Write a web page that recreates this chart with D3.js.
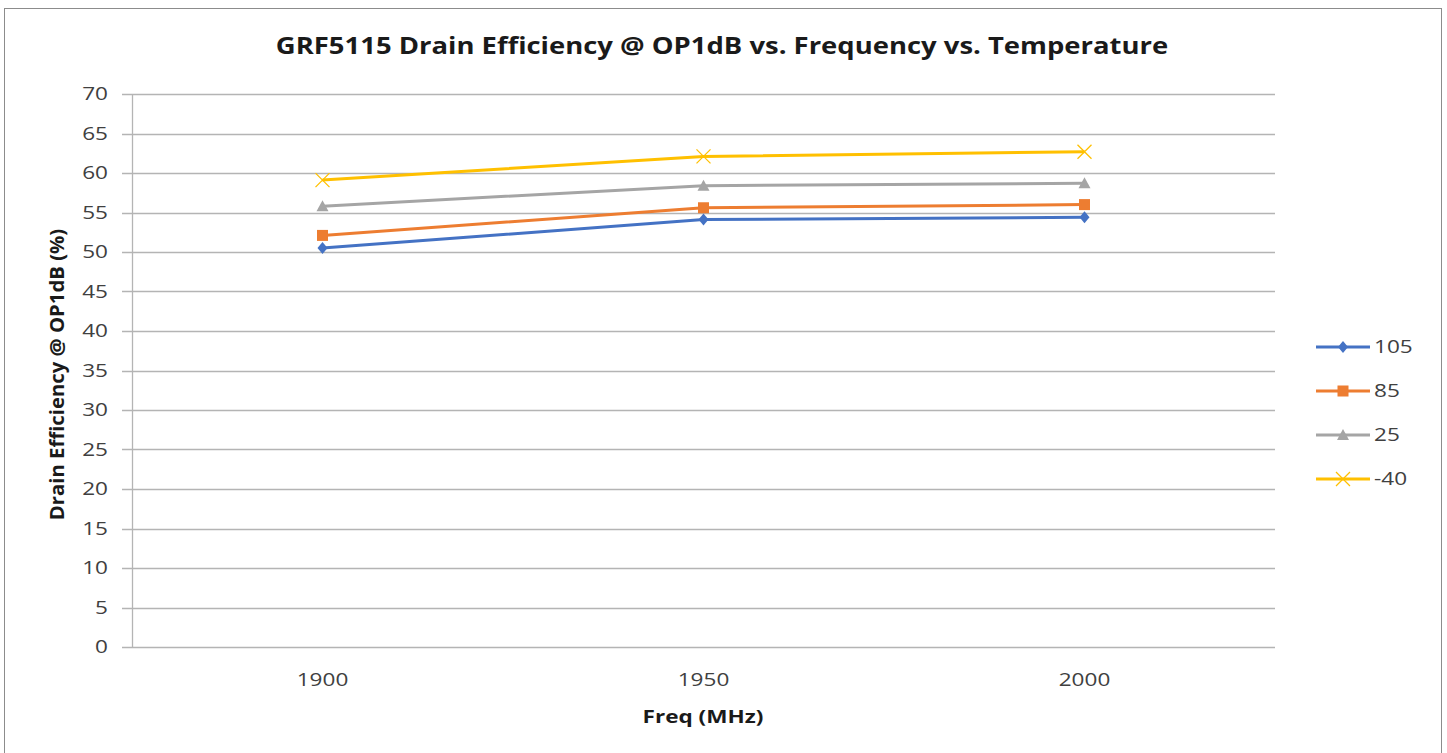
<!DOCTYPE html>
<html>
<head>
<meta charset="utf-8">
<script src="https://cdn.jsdelivr.net/npm/d3@7"></script>
<style>
  body { margin: 0; background: #fff; }
  svg text { font-family: "Open Sans", "DejaVu Sans", sans-serif; }
</style>
</head>
<body>
<div id="chart"></div>
<script>
// data
let freqs = ["1900", "1950", "2000"];
let temps = ["105", "85", "25", "-40"];
let eff105 = [50.5, 54.1, 54.4];
let eff85 = [52.1, 55.6, 56.0];
let eff25 = [55.8, 58.4, 58.7];
let effM40 = [59.1, 62.1, 62.7];
let yTicks = d3.range(0, 71, 5);

let colors = ["#4472C4", "#ED7D31", "#A5A5A5", "#FFC000"];
let shapes = ["diamond", "square", "triangle", "x"];
let series = [eff105, eff85, eff25, effM40].map(function (v, i) {
    return { name: temps[i], values: v, color: colors[i], shape: shapes[i] };
});

let W = 1447, H = 753;
let margin = { top: 94, left: 132, right: W - 1275, bottom: H - 647 };
let sx = 1.22; // the reference text is drawn wide

let svg = d3.select("#chart").append("svg")
    .attr("width", W)
    .attr("height", H);

// outer chart border
svg.append("rect")
    .attr("x", 4.5).attr("y", 8.5)
    .attr("width", 1437).attr("height", 760)
    .attr("fill", "#fff")
    .attr("stroke", "#8c8c8c")
    .attr("stroke-width", 1);

let x = d3.scaleBand().domain(freqs).range([margin.left, W - margin.right]);
let y = d3.scaleLinear().domain([0, 70]).range([H - margin.bottom, margin.top]);

function label(px, py, str, size, anchor, bold, fill) {
    return svg.append("text")
        .attr("transform", "translate(" + px + "," + py + ") scale(" + sx + ",1)")
        .attr("dy", "0.35em")
        .attr("text-anchor", anchor)
        .attr("font-size", size)
        .attr("font-weight", bold ? "bold" : "normal")
        .attr("fill", fill)
        .text(str);
}

// gridlines
svg.append("g")
    .selectAll("line")
    .data(yTicks)
    .enter().append("line")
    .attr("x1", margin.left - 10)
    .attr("x2", W - margin.right)
    .attr("y1", function (d) { return Math.round(y(d)) + 0.5; })
    .attr("y2", function (d) { return Math.round(y(d)) + 0.5; })
    .attr("stroke", "#b4b4b4")
    .attr("stroke-width", 1.3);

// y axis line
svg.append("line")
    .attr("x1", margin.left + 0.5).attr("x2", margin.left + 0.5)
    .attr("y1", y(70)).attr("y2", y(0))
    .attr("stroke", "#b4b4b4")
    .attr("stroke-width", 1.3);

// tick labels
yTicks.forEach(function (d) {
    label(108, y(d), d, 18.5, "end", false, "#404040");
});
freqs.forEach(function (d) {
    label(x(d) + x.bandwidth() / 2, 680, d, 18.5, "middle", false, "#404040");
});

// title and axis titles
label(722, 46, "GRF5115 Drain Efficiency @ OP1dB vs. Frequency vs. Temperature", 22.5, "middle", true, "#1a1a1a");
label(703, 717, "Freq (MHz)", 18.5, "middle", true, "#1a1a1a");

svg.append("text")
    .attr("transform", "translate(57," + (y(35) + 4) + ") rotate(-90)")
    .attr("dy", "0.35em")
    .attr("text-anchor", "middle")
    .attr("font-size", 20.3)
    .attr("font-weight", "bold")
    .attr("fill", "#1a1a1a")
    .text("Drain Efficiency @ OP1dB (%)");

function drawMarker(g, shape, color) {
    if (shape === "diamond") {
        g.append("path").attr("d", "M0,-6L5,0L0,6L-5,0Z").attr("fill", color);
    } else if (shape === "square") {
        g.append("rect").attr("x", -5.5).attr("y", -5.5).attr("width", 11).attr("height", 11).attr("fill", color);
    } else if (shape === "triangle") {
        g.append("path").attr("d", "M0,-6L6,5L-6,5Z").attr("fill", color);
    } else {
        g.append("path").attr("d", "M-7,-7L7,7M-7,7L7,-7").attr("stroke", color).attr("stroke-width", 1.3).attr("fill", "none");
    }
}

let line = d3.line()
    .x(function (d, i) { return x(freqs[i]) + x.bandwidth() / 2; })
    .y(function (d) { return y(d); });

series.forEach(function (s) {
    svg.append("path")
        .attr("d", line(s.values))
        .attr("fill", "none")
        .attr("stroke", s.color)
        .attr("stroke-width", 3)
        .attr("stroke-linejoin", "round");

    s.values.forEach(function (v, i) {
        let g = svg.append("g")
            .attr("transform", "translate(" + (x(freqs[i]) + x.bandwidth() / 2) + "," + y(v) + ")");
        drawMarker(g, s.shape, s.color);
    });
});

// legend
series.forEach(function (s, i) {
    let ly = 347 + i * 44;
    svg.append("line")
        .attr("x1", 1316).attr("x2", 1370)
        .attr("y1", ly).attr("y2", ly)
        .attr("stroke", s.color)
        .attr("stroke-width", 3);
    let g = svg.append("g").attr("transform", "translate(1343," + ly + ")");
    drawMarker(g, s.shape, s.color);
    label(1374, ly, s.name, 18.5, "start", false, "#404040");
});
</script>
</body>
</html>
